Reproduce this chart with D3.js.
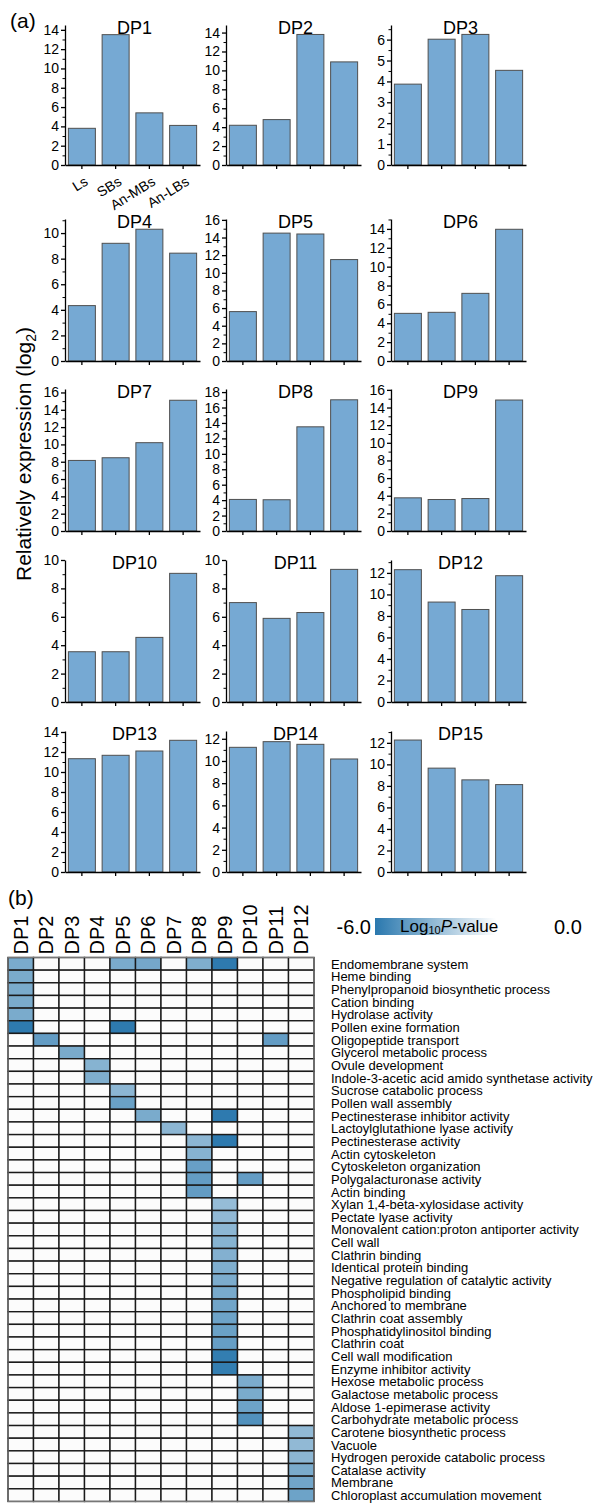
<!DOCTYPE html>
<html>
<head>
<meta charset="utf-8">
<script src="https://cdn.jsdelivr.net/npm/d3@7"></script>
<style>
  body { margin: 0; background: #fff; }
  svg { display: block; font-family: "Liberation Sans", Arial, sans-serif; }
</style>
</head>
<body>
<div id="fig"></div>
<script>
// ---- (a) expression bars ----
const stages = ["Ls", "SBs", "An-MBs", "An-LBs"];
const panelNames = ["DP1","DP2","DP3","DP4","DP5","DP6","DP7","DP8","DP9","DP10","DP11","DP12","DP13","DP14","DP15"];
const dp1 = [3.8, 13.5, 5.4, 4.1];
const dp2 = [4.2, 4.8, 13.8, 10.9];
const dp3 = [3.87, 6.02, 6.25, 4.53];
const dp4 = [4.33, 9.2, 10.3, 8.43];
const dp5 = [5.6, 14.5, 14.4, 11.5];
const dp6 = [5.05, 5.16, 7.17, 13.96];
const dp7 = [8.15, 8.46, 10.2, 15.1];
const dp8 = [4.09, 4.05, 13.5, 17.0];
const dp9 = [3.76, 3.57, 3.68, 14.85];
const dp10 = [3.54, 3.54, 4.55, 9.06];
const dp11 = [7.0, 5.89, 6.3, 9.34];
const dp12 = [12.3, 9.29, 8.6, 11.74];
const dp13 = [11.33, 11.67, 12.1, 13.17];
const dp14 = [11.23, 11.74, 11.5, 10.18];
const dp15 = [12.26, 9.65, 8.56, 8.12];
const exprValues = [dp1, dp2, dp3, dp4, dp5, dp6, dp7, dp8, dp9, dp10, dp11, dp12, dp13, dp14, dp15];
// y axis top and major tick step of each panel
const yTops = [14.5, 14.8, 6.7, 11.1, 16.1, 15.05, 16.4, 18.4, 16.1, 10, 10, 13.2, 14.1, 12.7, 13.1];
const ySteps = [2, 2, 1, 2, 2, 2, 2, 2, 2, 2, 2, 2, 2, 2, 2];

// ---- (b) GO enrichment heatmap ----
const dpColumns = ["DP1","DP2","DP3","DP4","DP5","DP6","DP7","DP8","DP9","DP10","DP11","DP12"];
const goTerms = [
  "Endomembrane system", "Heme binding", "Phenylpropanoid biosynthetic process", "Cation binding",
  "Hydrolase activity", "Pollen exine formation", "Oligopeptide transport", "Glycerol metabolic process",
  "Ovule development", "Indole-3-acetic acid amido synthetase activity", "Sucrose catabolic process",
  "Pollen wall assembly", "Pectinesterase inhibitor activity", "Lactoylglutathione lyase activity",
  "Pectinesterase activity", "Actin cytoskeleton", "Cytoskeleton organization", "Polygalacturonase activity",
  "Actin binding", "Xylan 1,4-beta-xylosidase activity", "Pectate lyase activity",
  "Monovalent cation:proton antiporter activity", "Cell wall", "Clathrin binding", "Identical protein binding",
  "Negative regulation of catalytic activity", "Phospholipid binding", "Anchored to membrane",
  "Clathrin coat assembly", "Phosphatidylinositol binding", "Clathrin coat", "Cell wall modification",
  "Enzyme inhibitor activity", "Hexose metabolic process", "Galactose metabolic process",
  "Aldose 1-epimerase activity", "Carbohydrate metabolic process", "Carotene biosynthetic process",
  "Vacuole", "Hydrogen peroxide catabolic process", "Catalase activity", "Membrane",
  "Chloroplast accumulation movement"
];
// [term, DP column, log10 P-value]
const goHits = [
  ["Endomembrane system","DP1",-3.75], ["Endomembrane system","DP5",-3.75], ["Endomembrane system","DP6",-3.9],
  ["Endomembrane system","DP8",-3.6], ["Endomembrane system","DP9",-5.9],
  ["Heme binding","DP1",-3.75], ["Phenylpropanoid biosynthetic process","DP1",-3.75],
  ["Cation binding","DP1",-3.75], ["Hydrolase activity","DP1",-3.75],
  ["Pollen exine formation","DP1",-5.9], ["Pollen exine formation","DP5",-5.9],
  ["Oligopeptide transport","DP2",-4.4], ["Oligopeptide transport","DP11",-4.4],
  ["Glycerol metabolic process","DP3",-3.75], ["Ovule development","DP4",-3.4],
  ["Indole-3-acetic acid amido synthetase activity","DP4",-3.6],
  ["Sucrose catabolic process","DP5",-3.25], ["Pollen wall assembly","DP5",-4.2],
  ["Pectinesterase inhibitor activity","DP6",-3.75], ["Pectinesterase inhibitor activity","DP9",-5.9],
  ["Lactoylglutathione lyase activity","DP7",-3.25],
  ["Pectinesterase activity","DP8",-3.25], ["Pectinesterase activity","DP9",-5.9],
  ["Actin cytoskeleton","DP8",-3.4], ["Cytoskeleton organization","DP8",-4.25],
  ["Polygalacturonase activity","DP8",-4.4], ["Polygalacturonase activity","DP10",-4.4],
  ["Actin binding","DP8",-4.4],
  ["Xylan 1,4-beta-xylosidase activity","DP9",-3.0], ["Pectate lyase activity","DP9",-3.1],
  ["Monovalent cation:proton antiporter activity","DP9",-3.2], ["Cell wall","DP9",-3.4],
  ["Clathrin binding","DP9",-3.5], ["Identical protein binding","DP9",-3.6],
  ["Negative regulation of catalytic activity","DP9",-3.7], ["Phospholipid binding","DP9",-3.8],
  ["Anchored to membrane","DP9",-4.0], ["Clathrin coat assembly","DP9",-4.1],
  ["Phosphatidylinositol binding","DP9",-4.2], ["Clathrin coat","DP9",-4.3],
  ["Cell wall modification","DP9",-5.75], ["Enzyme inhibitor activity","DP9",-5.75],
  ["Hexose metabolic process","DP10",-3.7], ["Galactose metabolic process","DP10",-3.75],
  ["Aldose 1-epimerase activity","DP10",-4.1], ["Carbohydrate metabolic process","DP10",-4.9],
  ["Carotene biosynthetic process","DP12",-3.1], ["Vacuole","DP12",-3.1],
  ["Hydrogen peroxide catabolic process","DP12",-3.25], ["Catalase activity","DP12",-3.75],
  ["Membrane","DP12",-4.0], ["Chloroplast accumulation movement","DP12",-4.1]
];
const legendDomain = [-6.0, 0.0];

// ---- layout ----
const W = 601, H = 1504;
const colX = [65, 226, 391], plotW = 135;
const rowTop = [25, 219, 389, 560, 731];
const rowBase = [165, 361, 531, 702, 872];
const barFill = "#76a9d3", barStroke = "#4f4f4f";

const svg = d3.select("#fig").append("svg")
  .attr("width", W).attr("height", H);

svg.append("text").attr("x", 10).attr("y", 28)
  .attr("font-size", 21).text("(a)");

// y title
const yTitle = svg.append("text")
  .attr("transform", "translate(31,454) rotate(-90)")
  .attr("text-anchor", "middle").attr("font-size", 21);
yTitle.append("tspan").text("Relatively expression (log");
yTitle.append("tspan").attr("font-size", 14).attr("dy", 5).text("2");
yTitle.append("tspan").attr("dy", -5).text(")");

exprValues.forEach((vals, i) => {
  const r = Math.floor(i / 3), c = i % 3;
  const g = svg.append("g").attr("transform", `translate(${colX[c]},0)`);

  const x = d3.scaleBand().domain(stages).range([0, plotW])
    .paddingInner(0.2).paddingOuter(0.1);
  const y = d3.scaleLinear().domain([0, yTops[i]]).range([rowBase[r], rowTop[r]]);

  const step = ySteps[i];
  const major = d3.range(0, yTops[i] + 1e-6, step);
  const minor = d3.range(step / 2, yTops[i] + 1e-6, step);

  g.selectAll("rect.bar").data(vals).join("rect")
    .attr("class", "bar")
    .attr("x", (d, k) => x(stages[k]))
    .attr("y", d => y(d))
    .attr("width", x.bandwidth())
    .attr("height", d => y(0) - y(d))
    .attr("fill", barFill).attr("stroke", barStroke).attr("stroke-width", 1);

  // minor ticks
  g.append("g")
    .call(d3.axisLeft(y).tickValues(minor).tickSize(2.5).tickFormat("").tickSizeOuter(0))
    .call(a => a.select(".domain").remove());

  // y axis
  g.append("g")
    .call(d3.axisLeft(y).tickValues(major).tickSize(4).tickPadding(2).tickSizeOuter(0)
      .tickFormat(d3.format("d")))
    .call(a => a.selectAll("text").attr("font-size", 14).attr("fill", "#000")
      .attr("font-family", '"Liberation Sans", Arial, sans-serif'))
    .call(a => a.selectAll("line,path").attr("stroke", "#000").attr("stroke-width", 1.3));

  // x axis
  g.append("g").attr("transform", `translate(0,${rowBase[r]})`)
    .call(d3.axisBottom(x).tickSize(4).tickSizeOuter(0).tickFormat(""))
    .call(a => a.selectAll("line,path").attr("stroke", "#000").attr("stroke-width", 1.3));

  if (i === 0) {
    g.selectAll("text.stage").data(stages).join("text")
      .attr("class", "stage")
      .attr("transform", d => `translate(${x(d) + x.bandwidth() / 2 + 7},${rowBase[r] + 19}) rotate(-32)`)
      .attr("text-anchor", "end").attr("font-size", 14).text(d => d);
  }

  g.append("text")
    .attr("x", plotW / 2 + 2).attr("y", rowTop[r] + 9)
    .attr("text-anchor", "middle").attr("font-size", 18)
    .text(panelNames[i]);
});

// ---- (b) ----
svg.append("text").attr("x", 8).attr("y", 905)
  .attr("font-size", 21).text("(b)");

const gx0 = 8, gy0 = 957.5, cellW = 25.5, cellH = 12.65;
const hx = d3.scaleBand().domain(dpColumns).range([gx0, gx0 + cellW * dpColumns.length]);
const hy = d3.scaleBand().domain(goTerms).range([gy0, gy0 + cellH * goTerms.length]);
const color = d3.scaleLinear().domain(legendDomain).range(["#2a78ae", "#ffffff"]);

const hitMap = new Map(goHits.map(h => [h[0] + "|" + h[1], h[2]]));
const cells = [];
goTerms.forEach(t => dpColumns.forEach(dp => {
  const v = hitMap.get(t + "|" + dp);
  cells.push({ t, dp, v });
}));

const hm = svg.append("g");
hm.selectAll("rect").data(cells).join("rect")
  .attr("x", d => hx(d.dp)).attr("y", d => hy(d.t))
  .attr("width", hx.bandwidth()).attr("height", hy.bandwidth())
  .attr("fill", d => d.v === undefined ? "#fcfcfc" : color(d.v))
  .attr("stroke", "#1a1a1a").attr("stroke-width", 1.4);
hm.append("rect")
  .attr("x", gx0).attr("y", gy0)
  .attr("width", cellW * dpColumns.length).attr("height", cellH * goTerms.length)
  .attr("fill", "none").attr("stroke", "#777").attr("stroke-width", 1.2);

// column headers
svg.selectAll("text.dp").data(dpColumns).join("text")
  .attr("class", "dp")
  .attr("transform", d => `translate(${hx(d) + hx.bandwidth() / 2 + 7},${gy0 - 3}) rotate(-90)`)
  .attr("font-size", 20).text(d => d);

// row labels
svg.selectAll("text.term").data(goTerms).join("text")
  .attr("class", "term")
  .attr("x", 331).attr("y", d => hy(d) + hy.bandwidth() / 2 + 5)
  .attr("font-size", 13).text(d => d);

// legend
const defs = svg.append("defs");
const grad = defs.append("linearGradient").attr("id", "lg");
grad.append("stop").attr("offset", "0%").attr("stop-color", color(legendDomain[0]));
grad.append("stop").attr("offset", "100%").attr("stop-color", color(legendDomain[1]));
const lx = d3.scaleLinear().domain(legendDomain).range([375, 496]);
svg.append("rect").attr("x", lx(-6)).attr("y", 918)
  .attr("width", lx(0) - lx(-6)).attr("height", 17).attr("fill", "url(#lg)");
svg.append("text").attr("x", lx(-6) - 4).attr("y", 934)
  .attr("text-anchor", "end").attr("font-size", 20).text(d3.format(".1f")(legendDomain[0]).replace("−", "-"));
svg.append("text").attr("x", 554).attr("y", 934)
  .attr("font-size", 20).text(d3.format(".1f")(legendDomain[1]));
const lt = svg.append("text").attr("x", 400).attr("y", 932).attr("font-size", 17);
lt.append("tspan").text("Log");
lt.append("tspan").attr("font-size", 11).attr("dy", 2).text("10");
lt.append("tspan").attr("dy", -2).attr("font-style", "italic").text("P");
lt.append("tspan").text("-value");
</script>
</body>
</html>
